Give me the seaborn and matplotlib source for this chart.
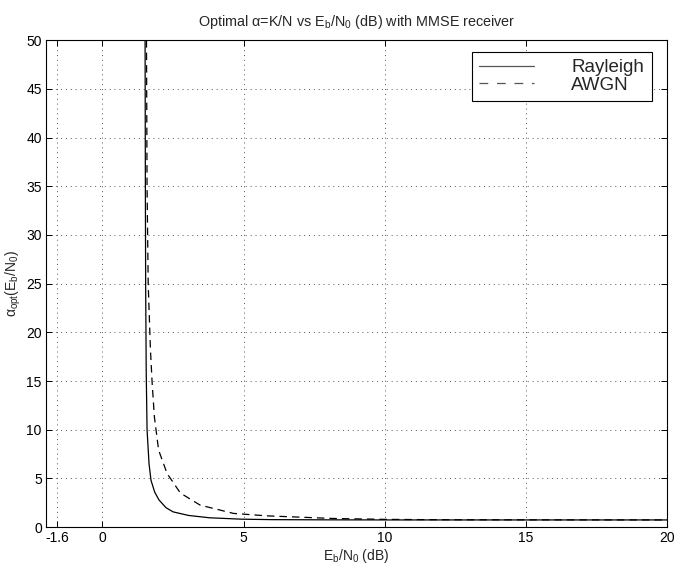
import matplotlib
matplotlib.use("Agg")
import matplotlib.pyplot as plt
import seaborn as sns
import pandas as pd

# Data
ray_x = [1.51, 1.52, 1.53, 1.55, 1.58, 1.65, 1.72, 1.85, 2.0, 2.25, 2.5, 3.05, 3.8, 4.9, 6.0, 8.0, 10.0, 12.0, 15.0, 20.0]
ray_y = [50.0, 35.0, 25.0, 16.0, 10.0, 6.5, 4.8, 3.6, 2.8, 2.0, 1.57, 1.2, 0.96, 0.82, 0.77, 0.75, 0.74, 0.74, 0.74, 0.74]
awgn_x = [1.56, 1.58, 1.62, 1.70, 1.76, 1.84, 1.99, 2.29, 2.76, 3.46, 4.64, 5.82, 8.17, 10.0, 12.0, 15.0, 20.0]
awgn_y = [50.0, 35.0, 25.0, 18.2, 14.8, 11.3, 7.9, 5.5, 3.5, 2.26, 1.41, 1.16, 0.89, 0.80, 0.76, 0.75, 0.74]
xticks = [-1.6, 0, 5, 10, 15, 20]
xticklabels = ["-1.6", "0", "5", "10", "15", "20"]
yticks = [0, 5, 10, 15, 20, 25, 30, 35, 40, 45, 50]

sns.set_theme(style="white")
plt.rcParams["font.family"] = ["Liberation Sans", "DejaVu Sans"]
plt.rcParams["mathtext.fontset"] = "custom"
plt.rcParams["mathtext.rm"] = "Liberation Sans"
plt.rcParams["mathtext.it"] = "Liberation Sans"

df = pd.concat([
    pd.DataFrame({"x": ray_x, "y": ray_y, "s": "Rayleigh"}),
    pd.DataFrame({"x": awgn_x, "y": awgn_y, "s": "AWGN"}),
], ignore_index=True)

fig = plt.figure(figsize=(6.76, 5.65), dpi=100)
ax = fig.add_axes([0.068, 0.067, 0.919, 0.862])

sns.lineplot(data=df[df.s == "Rayleigh"], x="x", y="y", ax=ax, color="black",
             linewidth=0.9, linestyle="-", label="Rayleigh", sort=False, estimator=None)
sns.lineplot(data=df[df.s == "AWGN"], x="x", y="y", ax=ax, color="black",
             linewidth=0.9, linestyle=(0, (6, 4)), label="AWGN", sort=False, estimator=None)

ax.set_xlim(-2.0, 20)
ax.set_ylim(0, 50)
ax.set_xticks(xticks)
ax.set_xticklabels(xticklabels)
ax.set_yticks(yticks)
ax.grid(True, linestyle=(0, (1, 4)), color="#555555", linewidth=0.7)
for sp in ax.spines.values():
    sp.set_color("black")
    sp.set_linewidth(0.8)
ax.tick_params(axis="both", direction="in", length=4, width=0.7, colors="black",
               labelsize=10, top=True, right=True, bottom=True, left=True, pad=3)

ax.set_title(r"Optimal $\alpha$=K/N vs E$_{\rm b}$/N$_{\rm 0}$ (dB) with MMSE receiver",
             fontsize=10.4, pad=10)
ax.set_xlabel(r"E$_{\rm b}$/N$_{\rm 0}$ (dB)", fontsize=10, labelpad=1)
ax.set_ylabel(r"$\alpha_{\rm opt}$(E$_{\rm b}$/N$_{\rm 0}$)", fontsize=10, labelpad=2)

leg = ax.legend(loc="upper right", fontsize=13.5, frameon=True, fancybox=False,
                edgecolor="black", framealpha=1, handlelength=2.9, handletextpad=2.0,
                labelspacing=0.0, borderpad=0.4, borderaxespad=0,
                bbox_to_anchor=(0.975, 0.976))
leg.get_frame().set_linewidth(0.8)
for ln in leg.get_lines():
    ln.set_color("#555555")
    ln.set_linewidth(0.9)
leg.get_lines()[1].set_linestyle((0, (7, 7)))

fig.savefig("out.png", dpi=100, facecolor="white")
